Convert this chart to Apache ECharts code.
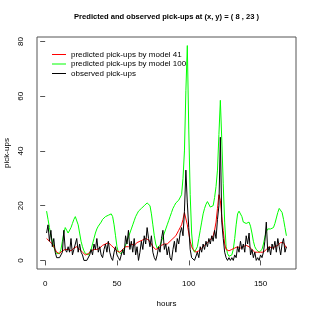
<!DOCTYPE html>
<html><head><meta charset="utf-8">
<script src="https://cdn.jsdelivr.net/npm/echarts@6/dist/echarts.min.js"></script>
<style>html,body{margin:0;padding:0;background:#fff}#c{width:315px;height:315px}</style>
</head><body><div id="c"></div>
<script>
const title = "Predicted and observed pick-ups at (x, y) = ( 8 , 23 )";
const xLabel = "hours";
const yLabel = "pick-ups";
const seriesNames = ["predicted pick-ups by model 41", "predicted pick-ups by model 100", "observed pick-ups"];
const xTicks = [0, 50, 100, 150];
const yTicks = [0, 20, 40, 60, 80];
const hours = Array.from({length: 168}, (_, i) => i + 1);

const model41 = [8,7.5,7,6.5,6,5,4,3,2.5,2.5,3,3.5,4,4,3.5,4,4,3.5,4,4.5,5,5,4.5,4,3.5,3,2.5,2,2,2.5,
3,3.5,4,4,4.5,4,4,4.5,5,5.5,6,6,6.5,6.5,6,5.5,5,4.5,4,3.5,3,3,3.5,4,4.5,5,5,5,5.5,6,
6,5.5,6,6.5,7,7,7.5,7.5,8,8,8,7.5,7,6,5,4.5,4,4,4.5,5,5.5,6,6,5.5,6,6.5,7,7.5,8,8.5,
9,10,11,12,13,15,17.5,17,13,10,7,5,4,3.5,3,3,3.5,4,4.5,5,5.5,6,6.5,7,7.5,8,9,11,14,19,
24,22,16,11,6,4,3.5,3.5,3.5,4,4,4.5,5,5,5,4.5,4.5,5,5.5,5.5,5.5,5,4.5,4,3.5,3,3,3,3,3,
3,3,3.5,4,4.5,5,5,4.5,4.5,5,5,5.5,6,6.5,6.5,6.5,5.5,4.5];

const model100 = [18,15,12,9,7,5,3.5,2.5,2,2.5,4,7,10,12,11,10,10.5,12,13.5,15,16,15.5,13,10,7,5,3.5,2.5,2,2,
2.5,4,6,8,10,11.5,12.5,13,14,15,15.5,16,16,16.5,17,17,16,13,9,5,3,2.5,2.5,3,4,5.5,7,8.5,10,11.5,
13,14.5,16,17,18,18.5,19,19.5,20,20.5,21,21,20,17,13,9,6,4.5,4.5,5.5,7,8.5,10,11.5,13,14.5,16,17.5,19,20,
21,21.5,22,22.5,24,30,40,62,78.5,48,24,10,4,3,3.5,5,8,11,14,17,19,20.5,21.5,21,19.5,19,20,23,27,33,
46,58.5,44,28,14,5,2.5,1.5,1.5,2,4,8,13,17,18,17.5,16,14,13.5,13.5,14,14,12.5,10,7,5,4,3.5,3,3,
4,6,8.5,10.5,11.5,12,11.5,11.5,12,13.5,15.5,17.5,19,19,17.5,15,12,9];

const observed = [10,13,7,11,5,8,3,1,1,1,1,3,11,4,3,5,3,8,2,4,6,8,3,6,3,2,0,0,0,0,
2,4,2,6,4,8,3,5,2,1,4,6,3,7,3,1,0,3,5,2,1,0,0,4,2,9,6,11,4,7,
3,8,2,5,0,3,7,4,9,6,12,8,5,9,3,1,0,2,5,3,8,11,4,6,2,5,1,0,4,7,
3,8,6,10,12,9,18,33,21,12,4,1,1,0,0,3,1,5,3,6,4,7,5,8,6,9,7,11,8,15,
20,45,14,8,3,1,0,1,0,1,0,2,1,5,3,7,4,6,3,9,6,10,2,4,1,3,0,1,0,2,
1,3,7,14,3,5,2,6,4,7,3,8,5,2,6,8,3,5];

const pairs = arr => hours.map((h, i) => [h, arr[i]]);
const font = "Liberation Sans, Arial, Helvetica, sans-serif";

const chart = echarts.init(document.getElementById('c'), null, {renderer: 'canvas'});
chart.setOption({
  animation: false,
  backgroundColor: '#ffffff',
  title: {
    text: title, left: 74, top: 13, padding: 0,
    textStyle: {fontSize: 7.6, fontWeight: 'bold', color: '#000', fontFamily: font}
  },
  grid: {left: 37, right: 19, top: 37, bottom: 46, containLabel: false, outerBoundsMode: 'none',
         show: true, borderColor: '#555', borderWidth: 1, backgroundColor: 'transparent'},
  legend: {
    orient: 'vertical', left: 52, top: 50, itemGap: 0.5, itemWidth: 14, itemHeight: 1, padding: 0,
    icon: 'rect',
    textStyle: {fontSize: 8, lineHeight: 9, color: '#000', fontFamily: font},
    data: seriesNames
  },
  xAxis: {
    type: 'value', min: -5.68, max: 174.68,
    name: xLabel, nameLocation: 'middle', nameGap: 31, nameMoveOverlap: false,
    nameTextStyle: {fontSize: 8, color: '#000', fontFamily: font},
    axisLine: {show: false},
    axisTick: {show: true, length: 5, inside: false, lineStyle: {color: '#555'}, customValues: xTicks},
    axisLabel: {margin: 11, fontSize: 8, color: '#000', fontFamily: font, customValues: xTicks},
    splitLine: {show: false}
  },
  yAxis: {
    type: 'value', min: -3.14, max: 81.64,
    name: yLabel, nameLocation: 'middle', nameGap: 26, nameRotate: 90, nameMoveOverlap: false,
    nameTextStyle: {fontSize: 8, color: '#000', fontFamily: font},
    axisLine: {show: false},
    axisTick: {show: true, length: 5, inside: false, lineStyle: {color: '#555'}, customValues: yTicks},
    axisLabel: {margin: 12, rotate: 90, fontSize: 8, color: '#000', fontFamily: font, customValues: yTicks},
    splitLine: {show: false}
  },
  series: [
    {name: seriesNames[0], type: 'line', data: pairs(model41), showSymbol: false, symbol: 'none', z: 3,
     lineStyle: {color: '#ff0000', width: 1}, itemStyle: {color: '#ff0000'}},
    {name: seriesNames[1], type: 'line', data: pairs(model100), showSymbol: false, symbol: 'none', z: 2,
     lineStyle: {color: '#00ff00', width: 1}, itemStyle: {color: '#00ff00'}},
    {name: seriesNames[2], type: 'line', data: pairs(observed), showSymbol: false, symbol: 'none', z: 4,
     lineStyle: {color: '#000000', width: 1}, itemStyle: {color: '#000000'}}
  ]
});
</script></body></html>
